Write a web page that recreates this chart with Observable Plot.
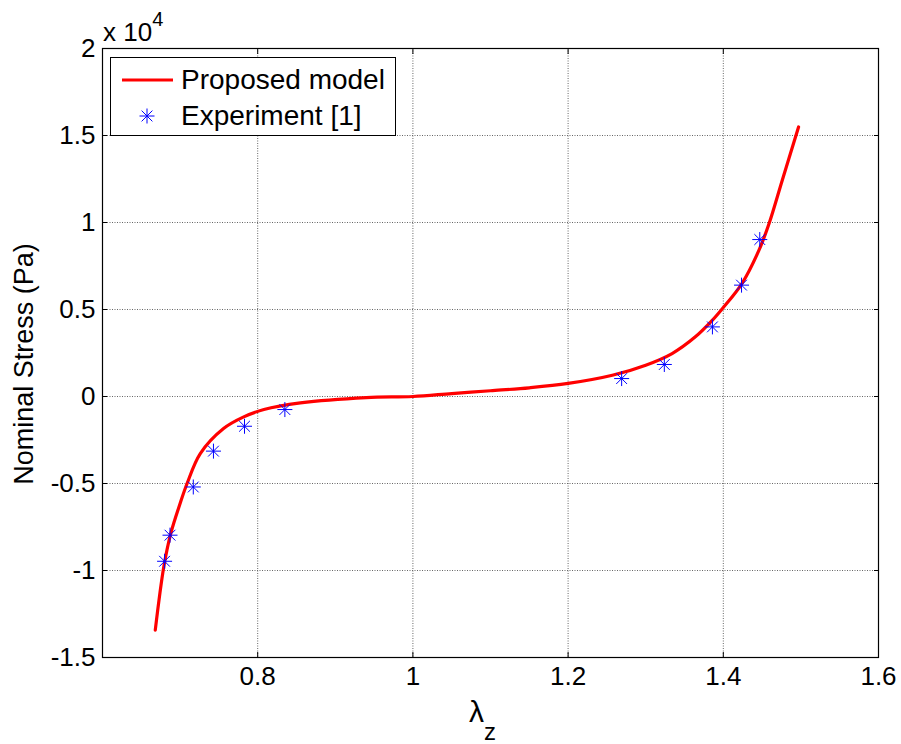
<!DOCTYPE html>
<html>
<head>
<meta charset="utf-8">
<script src="https://cdn.jsdelivr.net/npm/d3@7"></script>
<script src="https://cdn.jsdelivr.net/npm/@observablehq/plot@0.6"></script>
<style>
  body { margin: 0; background: #fff; }
  #wrap { position: relative; width: 901px; height: 744px; font-family: "Liberation Sans", Arial, sans-serif; }
  #legend { position: absolute; left: 110px; top: 57px; width: 286px; height: 79px; border: 1px solid #000; background: #fff; box-sizing: border-box; }
  #legend .row { position: absolute; left: 0; height: 30px; display: flex; align-items: center; font-size: 28px; }
  #legend svg { display: block; }
</style>
</head>
<body>
<div id="wrap"></div>
<script>
// Model curve (lambda_z, nominal stress in Pa)
const lambdaModel = [0.668, 0.679, 0.688, 0.700, 0.709, 0.726, 0.756, 0.782, 0.808, 0.855, 0.94, 1.0, 1.05, 1.1, 1.15, 1.2, 1.257, 1.3, 1.334, 1.364, 1.386, 1.399, 1.424, 1.446, 1.459, 1.476, 1.497];
const stressModel = [-13430, -9790, -7870, -6150, -5000, -3280, -1840, -1170, -750, -370, -60, 0, 170, 330, 500, 750, 1220, 1800, 2470, 3430, 4390, 5060, 6490, 8410, 9940, 12430, 15490];
// Experiment [1]
const lambdaExp = [0.680, 0.687, 0.717, 0.743, 0.783, 0.835, 1.269, 1.324, 1.386, 1.4235, 1.447];
const stressExp = [-9470, -7970, -5200, -3140, -1710, -750, 1030, 1840, 4000, 6400, 9020];
// Ticks
const xTicks = [0.8, 1, 1.2, 1.4, 1.6];
const yTicks = [-15000, -10000, -5000, 0, 5000, 10000, 15000, 20000];
const xGrid = [0.8, 1, 1.2, 1.4];
const yGrid = [-10000, -5000, 0, 5000, 10000, 15000];
const seriesNames = ["Proposed model", "Experiment [1]"];

const model = lambdaModel.map((x, i) => ({x, y: stressModel[i]}));
const exp = lambdaExp.map((x, i) => ({x, y: stressExp[i]}));

const asterisk = {
  draw(context, size) {
    const r = Math.sqrt(size / Math.PI);
    const d = r * 0.72;
    context.moveTo(-r, 0); context.lineTo(r, 0);
    context.moveTo(0, -r); context.lineTo(0, r);
    context.moveTo(-d, -d); context.lineTo(d, d);
    context.moveTo(-d, d); context.lineTo(d, -d);
  }
};

const W = 901, H = 744;
const plot = Plot.plot({
  width: W, height: H,
  marginLeft: 102, marginRight: 23, marginTop: 48, marginBottom: 87,
  style: {fontFamily: "Liberation Sans, Arial, sans-serif", fontSize: "26px", color: "#000", background: "#fff"},
  x: {domain: [0.6, 1.6], ticks: xTicks, tickFormat: d => String(d)},
  y: {domain: [-15000, 20000], ticks: yTicks, tickFormat: d => String(d / 10000)},
  marks: [
    Plot.ruleX(xGrid, {stroke: "#666", strokeWidth: 1, strokeDasharray: "1,1.5"}),
    Plot.ruleY(yGrid, {stroke: "#666", strokeWidth: 1, strokeDasharray: "1,1.5"}),
    Plot.axisX({anchor: "bottom", ticks: xTicks, tickSize: -5, tickPadding: 14, label: null, fontSize: 26, tickFormat: d => String(d)}),
    Plot.axisX({anchor: "top", ticks: xTicks, tickSize: -5, tickFormat: () => "", label: null}),
    Plot.axisY({anchor: "left", ticks: yTicks, tickSize: -5, tickPadding: 12, label: null, fontSize: 26, tickFormat: d => String(d / 10000)}),
    Plot.axisY({anchor: "right", ticks: yTicks, tickSize: -5, tickFormat: () => "", label: null}),
    Plot.line(model, {x: "x", y: "y", stroke: "#ff0000", strokeWidth: 3.2, curve: "catmull-rom"}),
    Plot.dot(exp, {x: "x", y: "y", symbol: asterisk, r: 7.5, stroke: "#0000ff", strokeWidth: 1, fill: "none"}),
    Plot.frame({stroke: "#000", strokeWidth: 1.2})
  ]
});

document.getElementById("wrap").appendChild(plot);

const svg = d3.select(plot);
// y label
svg.append("text")
  .attr("transform", "translate(33,364) rotate(-90)")
  .attr("text-anchor", "middle")
  .attr("font-size", 27)
  .attr("font-family", "Liberation Sans, Arial, sans-serif")
  .attr("fill", "#000")
  .text("Nominal Stress (Pa)");
// x label
const xl = svg.append("text")
  .attr("x", 469).attr("y", 722)
  .attr("text-anchor", "start")
  .attr("font-family", "Liberation Sans, Arial, sans-serif")
  .attr("fill", "#000");
xl.append("tspan").attr("font-size", 30).text("λ");
xl.append("tspan").attr("font-size", 24).attr("dy", 18).text("z");
// exponent
const ex = svg.append("text")
  .attr("x", 103).attr("y", 41)
  .attr("text-anchor", "start")
  .attr("font-family", "Liberation Sans, Arial, sans-serif")
  .attr("font-size", 26)
  .attr("fill", "#000");
ex.append("tspan").text("x 10");
ex.append("tspan").attr("font-size", 20).attr("dy", -15).text("4");

// legend
const lg = document.createElement("div");
lg.id = "legend";
lg.innerHTML = `
  <div class="row" style="top:7px"><svg width="70" height="30"><line x1="11" x2="62" y1="15" y2="15" stroke="#ff0000" stroke-width="3.2"/></svg><span>${seriesNames[0]}</span></div>
  <div class="row" style="top:43px"><svg width="70" height="30"><g stroke="#0000ff" stroke-width="1" transform="translate(36,15)"><line x1="-7.5" x2="7.5" y1="0" y2="0"/><line x1="0" x2="0" y1="-7.5" y2="7.5"/><line x1="-5.4" x2="5.4" y1="-5.4" y2="5.4"/><line x1="-5.4" x2="5.4" y1="5.4" y2="-5.4"/></g></svg><span>${seriesNames[1]}</span></div>
`;
document.getElementById("wrap").appendChild(lg);
</script>
</body>
</html>
